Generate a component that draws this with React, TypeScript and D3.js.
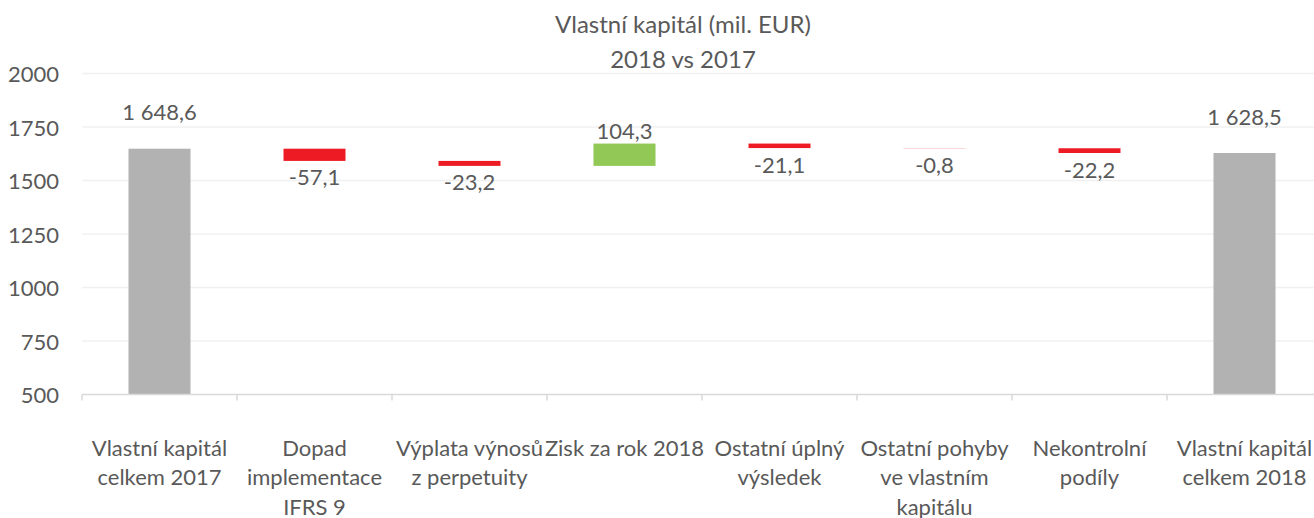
import React from "react";
import * as d3 from "d3";

const categories: string[][] = [
  ["Vlastní kapitál", "celkem 2017"],
  ["Dopad", "implementace", "IFRS 9"],
  ["Výplata výnosů", "z perpetuity"],
  ["Zisk za rok 2018"],
  ["Ostatní úplný", "výsledek"],
  ["Ostatní pohyby", "ve vlastním", "kapitálu"],
  ["Nekontrolní", "podíly"],
  ["Vlastní kapitál", "celkem 2018"],
];
const values = [1648.6, -57.1, -23.2, 104.3, -21.1, -0.8, -22.2, 1628.5];
const kinds = ["total", "delta", "delta", "delta", "delta", "delta", "delta", "total"];
const yTicks = [500, 750, 1000, 1250, 1500, 1750, 2000];
const titleLines = ["Vlastní kapitál (mil. EUR)", "2018 vs 2017"];

const W = 1314;
const H = 518;
const FONT = "Lato, 'Open Sans', sans-serif";
const TEXT = "#595959";
const FS = 22;

const locale = d3.formatLocale({ decimal: ",", thousands: " ", grouping: [3], currency: ["", ""], minus: "-" });
const fmt = locale.format(",.1f");

export default function App() {
  const x = d3.scaleBand<number>().domain(d3.range(categories.length)).range([82, 1322]).padding(0);
  const y = d3.scaleLinear().domain([500, 2000]).range([394.5, 73.5]);
  const barW = x.bandwidth() * 0.4;

  let running = 0;
  const bars = values.map((v, i) => {
    let lo: number, hi: number;
    if (kinds[i] === "total") {
      lo = 500;
      hi = v;
      running = v;
    } else {
      const start = running;
      running = start + v;
      lo = Math.min(start, running);
      hi = Math.max(start, running);
    }
    const color = kinds[i] === "total" ? "#B2B2B3" : v < 0 ? "#ED1C24" : "#92C855";
    return { i, v, lo, hi, color };
  });

  return (
    <svg width={W} height={H} style={{ position: "fixed", left: 0, top: 0, background: "#fff" }} fontFamily={FONT}>
      {titleLines.map((t, k) => (
        <text key={k} x={683} y={23 + k * 35} textAnchor="middle" dominantBaseline="central" fontSize={24} fill={TEXT}>
          {t}
        </text>
      ))}
      {yTicks.map((t) => (
        <g key={t}>
          {t !== 500 && <line x1={82} x2={W} y1={y(t)} y2={y(t)} stroke="#F0F0F0" strokeWidth={1.5} />}
          <text x={59} y={y(t)} textAnchor="end" dominantBaseline="central" fontSize={FS} fill={TEXT}>
            {t}
          </text>
        </g>
      ))}
      {bars.map((b) => {
        const cx = (x(b.i) as number) + x.bandwidth() / 2;
        const top = y(b.hi);
        const bottom = y(b.lo);
        let ly: number;
        if (kinds[b.i] === "total") ly = top - 37;
        else if (b.v >= 0) ly = top - 13;
        else ly = bottom + 16;
        return (
          <g key={b.i}>
            <rect x={cx - barW / 2} y={top} width={barW} height={Math.max(0, bottom - top)} fill={b.color} />
            <text x={cx} y={ly} textAnchor="middle" dominantBaseline="central" fontSize={FS} fill={TEXT}>
              {fmt(b.v)}
            </text>
          </g>
        );
      })}
      <line x1={82} x2={W} y1={y(500)} y2={y(500)} stroke="#D9D9D9" strokeWidth={1.5} />
      {d3.range(categories.length + 1).map((i) => {
        const tx = 82 + i * x.bandwidth();
        return <line key={i} x1={tx} x2={tx} y1={y(500)} y2={y(500) + 6} stroke="#D9D9D9" strokeWidth={1.5} />;
      })}
      {categories.map((lines, i) => {
        const cx = (x(i) as number) + x.bandwidth() / 2;
        return (
          <text key={i} textAnchor="middle" fontSize={FS} fill={TEXT}>
            {lines.map((l, k) => (
              <tspan key={k} x={cx} y={455.5 + k * 29.5}>
                {l}
              </tspan>
            ))}
          </text>
        );
      })}
    </svg>
  );
}
